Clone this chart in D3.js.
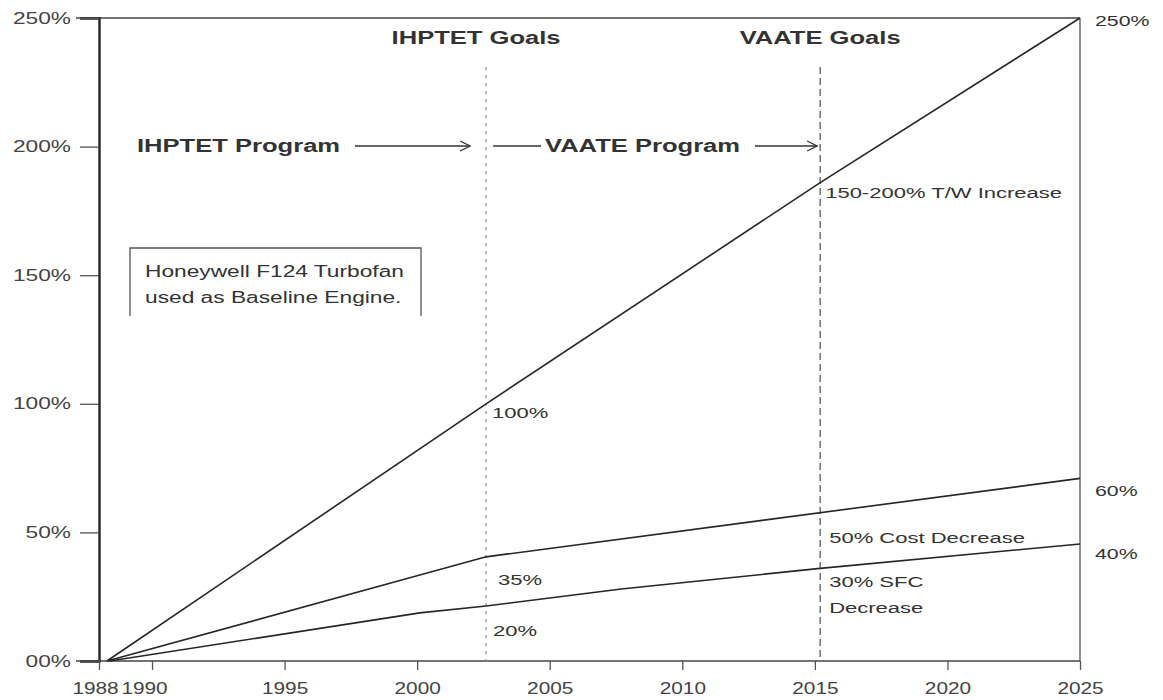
<!DOCTYPE html>
<html>
<head>
<meta charset="utf-8">
<script src="https://cdn.jsdelivr.net/npm/d3@7"></script>
<style>
  body { margin: 0; background: #fff; }
  svg { font-family: "Liberation Sans", Arial, sans-serif; }
</style>
</head>
<body>
<div id="chart"></div>
<script>
const width = 1163, height = 700;

// axis ticks
const xTicks = [1988, 1990, 1995, 2000, 2005, 2010, 2015, 2020, 2025];
const yTicks = [0, 50, 100, 150, 200, 250];
const yTickLabels = ["00%", "50%", "100%", "150%", "200%", "250%"];

// goal years (vertical markers)
const goalNames = ["IHPTET", "VAATE"];
const goalYears = [2002.6, 2015.2];

// series: [year, percent]
const twIncrease = [[1988.3, 0], [2002.6, 100], [2015.2, 186], [2025, 250]];
const costDecrease = [[1988.3, 0], [2000.1, 33.4], [2002.6, 40.5], [2025, 71]];
const sfcDecrease = [[1988.4, 0], [2000.1, 18.7], [2002.6, 21.4], [2007.7, 28], [2015.2, 36], [2025, 45.5]];

// end values shown on the right
const endLabels = ["250%", "60%", "40%"];

const x = d3.scaleLinear().domain([1988, 2025]).range([99, 1080]);
const y = d3.scaleLinear().domain([0, 250]).range([661, 18]);

const svg = d3.select("#chart").append("svg")
  .attr("width", width)
  .attr("height", height);

const ink = "#262626";

// frame: top and right lines
svg.append("line").attr("x1", 76).attr("x2", x(2025)).attr("y1", y(250)).attr("y2", y(250))
  .attr("stroke", "#444").attr("stroke-width", 1.6);
svg.append("line").attr("x1", x(2025)).attr("x2", x(2025)).attr("y1", y(250)).attr("y2", y(0))
  .attr("stroke", "#555").attr("stroke-width", 1.3);

// y axis
const yAxis = svg.append("g")
  .attr("transform", `translate(${x(1988)},0)`)
  .call(d3.axisLeft(y).tickValues(yTicks).tickSize(19).tickPadding(9)
    .tickFormat((d, i) => yTickLabels[i]));
yAxis.select(".domain").attr("stroke", ink).attr("stroke-width", 2.4);
yAxis.selectAll(".tick line").attr("stroke", "#555").attr("stroke-width", 1.3);
yAxis.selectAll(".tick text").attr("font-size", 16).attr("fill", "#444");

// x axis
const xAxis = svg.append("g")
  .attr("transform", `translate(0,${y(0)})`)
  .call(d3.axisBottom(x).tickValues(xTicks).tickSize(9).tickPadding(13).tickFormat(d3.format("d")));
xAxis.select(".domain").remove();
xAxis.selectAll(".tick line").attr("stroke", "#555").attr("stroke-width", 1.3);
xAxis.selectAll(".tick text").attr("font-size", 16).attr("fill", "#444").attr("class", "xlab");
xAxis.selectAll(".tick text").filter(d => d === 1988).attr("dx", -4);
xAxis.selectAll(".tick text").filter(d => d === 1990).attr("dx", -8);
svg.append("line").attr("x1", 76).attr("x2", x(2025)).attr("y1", y(0)).attr("y2", y(0))
  .attr("stroke", "#444").attr("stroke-width", 1.6);

// goal markers
svg.selectAll(".goal")
  .data(goalYears)
  .join("line")
  .attr("x1", d => x(d)).attr("x2", d => x(d))
  .attr("y1", 67).attr("y2", y(0))
  .attr("stroke", (d, i) => i === 0 ? "#999" : "#666")
  .attr("stroke-width", 1.4)
  .attr("stroke-dasharray", (d, i) => i === 0 ? "3,5" : "7,4");

svg.selectAll(".goalLabel")
  .data(goalNames)
  .join("text")
  .attr("x", (d, i) => x(goalYears[i]) + (i === 0 ? -10 : 0))
  .attr("y", 44)
  .attr("text-anchor", "middle")
  .attr("font-size", 18)
  .attr("font-weight", "bold")
  .attr("fill", "#333")
  .text(d => d + " Goals");

// series lines
const line = d3.line().x(d => x(d[0])).y(d => y(d[1]));
[twIncrease, costDecrease, sfcDecrease].forEach(s => {
  svg.append("path")
    .attr("d", line(s))
    .attr("fill", "none")
    .attr("stroke", ink)
    .attr("stroke-width", 1.6);
});

// program arrows
const arrowY = 146;
function arrow(x1, x2) {
  svg.append("line").attr("x1", x1).attr("x2", x2).attr("y1", arrowY).attr("y2", arrowY)
    .attr("stroke", "#333").attr("stroke-width", 1.3);
  svg.append("path")
    .attr("d", `M${x2 - 10},${arrowY - 5} L${x2},${arrowY} L${x2 - 10},${arrowY + 5}`)
    .attr("fill", "none").attr("stroke", "#333").attr("stroke-width", 1.3);
}
svg.append("text").attr("x", 137).attr("y", arrowY + 6)
  .attr("font-size", 18).attr("font-weight", "bold").attr("fill", "#333").text("IHPTET Program");
arrow(355, x(goalYears[0]) - 16);
svg.append("line").attr("x1", x(goalYears[0]) + 7).attr("x2", 541).attr("y1", arrowY).attr("y2", arrowY)
  .attr("stroke", "#333").attr("stroke-width", 1.3);
svg.append("text").attr("x", 545).attr("y", arrowY + 6)
  .attr("font-size", 18).attr("font-weight", "bold").attr("fill", "#333").text("VAATE Program");
arrow(755, x(goalYears[1]) - 3);

// annotations
const note = (tx, ty, txt) => svg.append("text").attr("x", tx).attr("y", ty)
  .attr("font-size", 15.5).attr("fill", "#333").text(txt);
note(x(goalYears[1]) + 5, 198, "150-200% T/W Increase");
note(x(goalYears[0]) + 6, 418, "100%");
note(x(goalYears[1]) + 9, 543, "50% Cost Decrease");
note(x(goalYears[1]) + 9, 587, "30% SFC");
note(x(goalYears[1]) + 9, 613, "Decrease");
note(x(goalYears[0]) + 12, 585, "35%");
note(x(goalYears[0]) + 7, 636, "20%");

// right-hand end values
const ends = [twIncrease, costDecrease, sfcDecrease];
svg.selectAll(".endLabel")
  .data(endLabels)
  .join("text")
  .attr("x", x(2025) + 15)
  .attr("y", (d, i) => i === 0 ? 26 : y(ends[i][ends[i].length - 1][1]) + (i === 1 ? 18 : 15))
  .attr("font-size", 15).attr("fill", "#333")
  .text(d => d);

// baseline engine box
const box = svg.append("g");
box.append("path")
  .attr("d", "M130,316 L130,248 L421,248 L421,316")
  .attr("fill", "none").attr("stroke", "#555").attr("stroke-width", 1.3);
box.append("text").attr("x", 145).attr("y", 277)
  .attr("font-size", 16).attr("fill", "#333").text("Honeywell F124 Turbofan");
box.append("text").attr("x", 145).attr("y", 303)
  .attr("font-size", 16).attr("fill", "#333").text("used as Baseline Engine.");

// the source image is stretched sideways; widen every label to match
svg.selectAll("text").each(function () {
  const sx = this.getAttribute("class") === "xlab" ? 1.3 : 1.42;
  const len = this.getComputedTextLength();
  d3.select(this).attr("textLength", len * sx).attr("lengthAdjust", "spacingAndGlyphs");
});
</script>
</body>
</html>
